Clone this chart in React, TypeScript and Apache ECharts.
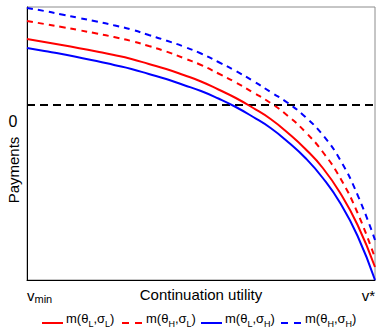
import React, { useEffect, useRef } from 'react';
import * as echarts from 'echarts';

// Continuation utility, normalised from v_min (0) to v* (1)
const utility = [0, 0.05, 0.1, 0.15, 0.2, 0.25, 0.3, 0.35, 0.4, 0.45, 0.5, 0.55, 0.6, 0.65, 0.7, 0.75, 0.8, 0.85, 0.9, 0.95, 1];

// Payments (zero = black dashed line)
const mLL = [0.66, 0.63, 0.60, 0.568, 0.535, 0.50, 0.46, 0.41, 0.36, 0.30, 0.235, 0.155, 0.07, -0.03, -0.14, -0.28, -0.44, -0.63, -0.88, -1.20, -1.62];
const mHL = [0.84, 0.81, 0.78, 0.748, 0.715, 0.68, 0.64, 0.59, 0.535, 0.47, 0.40, 0.315, 0.225, 0.125, 0.02, -0.11, -0.27, -0.47, -0.73, -1.08, -1.53];
const mLH = [0.57, 0.54, 0.51, 0.475, 0.44, 0.40, 0.36, 0.31, 0.26, 0.20, 0.14, 0.065, -0.02, -0.12, -0.23, -0.37, -0.53, -0.73, -0.98, -1.31, -1.75];
const mHH = [0.97, 0.94, 0.905, 0.87, 0.835, 0.797, 0.755, 0.70, 0.645, 0.585, 0.515, 0.43, 0.34, 0.24, 0.13, 0.02, -0.12, -0.30, -0.55, -0.90, -1.35];
const zeroLine = [0, 0];
const zeroX = [0, 1];

const seriesNames = ['LL', 'HL', 'LH', 'HH'];
const thetaSub: Record<string, string> = { LL: 'L', HL: 'H', LH: 'L', HH: 'H' };
const sigmaSub: Record<string, string> = { LL: 'L', HL: 'L', LH: 'H', HH: 'H' };
const seriesColor: Record<string, string> = { LL: '#ff0000', HL: '#ff0000', LH: '#0000ff', HH: '#0000ff' };
const seriesDashed: Record<string, boolean> = { LL: false, HL: true, LH: false, HH: true };
const legendX = [42, 122, 201, 281];

const FONT = '"Liberation Sans", Arial, sans-serif';

function pairs(ys: number[]) {
  return utility.map((x, i) => [x, ys[i]]);
}

export default function App() {
  const ref = useRef<HTMLDivElement>(null);
  useEffect(() => {
    const chart = echarts.init(ref.current!, null, { renderer: 'svg' });
    const curve = (name: string, ys: number[]) => ({
      name,
      type: 'line',
      data: pairs(ys),
      smooth: true,
      showSymbol: false,
      symbol: 'none',
      lineStyle: { color: seriesColor[name], width: 2, type: seriesDashed[name] ? [6, 5] : 'solid' },
      itemStyle: { color: seriesColor[name] },
      z: 3,
    });
    const legendGraphics: any[] = [];
    seriesNames.forEach((name, i) => {
      const x0 = legendX[i];
      legendGraphics.push({
        type: 'line',
        shape: { x1: x0, y1: 323, x2: x0 + 21, y2: 323 },
        style: {
          stroke: seriesColor[name],
          lineWidth: 2,
          lineDash: seriesDashed[name] ? [7, 6] : null,
        },
      });
      legendGraphics.push({
        type: 'text',
        x: x0 + 24,
        y: 320,
        style: {
          text: `{t|m(θ}{s|${thetaSub[name]}}{t|,σ}{s|${sigmaSub[name]}}{t|)}`,
          verticalAlign: 'middle',
          align: 'left',
          rich: {
            t: { fontSize: 13, fontFamily: FONT, fill: '#000', lineHeight: 16, verticalAlign: 'top' },
            s: { fontSize: 9, fontFamily: FONT, fill: '#000', lineHeight: 10, padding: [10, 0, 0, 0], verticalAlign: 'bottom' },
          },
        },
      });
    });
    chart.setOption({
      animation: false,
      textStyle: { fontFamily: FONT, color: '#000' },
      grid: {
        left: 27,
        top: 7,
        width: 348,
        height: 273,
        show: true,
        borderColor: '#8c8c8c',
        borderWidth: 1,
      },
      xAxis: {
        type: 'value',
        min: 0,
        max: 1,
        name: 'Continuation utility',
        nameLocation: 'middle',
        nameGap: 7,
        nameMoveOverlap: false,
        nameTextStyle: { fontSize: 15, color: '#000', verticalAlign: 'top', fontFamily: FONT },
        axisLine: { show: true, onZero: false, lineStyle: { color: '#000', width: 1 } },
        axisTick: { show: false },
        splitLine: { show: false },
        axisLabel: {
          customValues: [0, 1],
          margin: 8,
          alignMinLabel: 'left',
          alignMaxLabel: 'right',
          verticalAlign: 'top',
          formatter: (v: number) => (v === 0 ? '{v|v}{s|min}' : '{v|v*}'),
          rich: {
            v: { fontSize: 15, color: '#000', fontFamily: FONT, lineHeight: 16, verticalAlign: 'top' },
            s: { fontSize: 11, color: '#000', fontFamily: FONT, lineHeight: 12, padding: [8, 0, 0, 0], verticalAlign: 'bottom' },
          },
        },
      },
      yAxis: {
        type: 'value',
        min: -1.75,
        max: 0.98,
        axisLine: { show: true, onZero: false, lineStyle: { color: '#000', width: 1 } },
        axisTick: { show: false },
        splitLine: { show: false },
        axisLabel: { show: false },
      },
      graphic: [
        {
          type: 'text',
          x: 13,
          y: 121,
          style: {
            text: '0',
            font: `16px ${FONT}`,
            fill: '#000',
            align: 'center',
            verticalAlign: 'middle',
          },
        },
        {
          type: 'text',
          x: 13,
          y: 170,
          rotation: Math.PI / 2,
          style: {
            text: 'Payments',
            font: `15px ${FONT}`,
            fill: '#000',
            align: 'center',
            verticalAlign: 'middle',
          },
        },
        ...legendGraphics,
      ],
      series: [
        curve('LL', mLL),
        curve('HL', mHL),
        curve('LH', mLH),
        curve('HH', mHH),
        {
          name: 'zero',
          type: 'line',
          data: zeroX.map((x, i) => [x, zeroLine[i]]),
          showSymbol: false,
          symbol: 'none',
          lineStyle: { color: '#000', width: 2, type: [8, 5] },
          z: 2,
        },
      ],
    });
    return () => chart.dispose();
  }, []);
  return <div ref={ref} style={{ position: 'absolute', left: 0, top: 0, width: 379, height: 334 }} />;
}
